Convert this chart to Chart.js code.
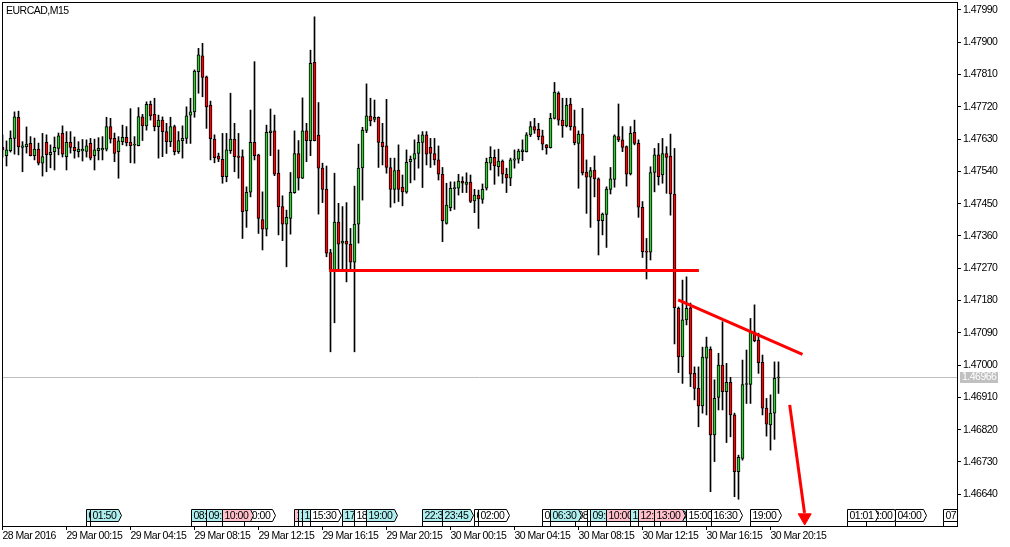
<!DOCTYPE html>
<html>
<head>
<meta charset="utf-8">
<script src="https://cdn.jsdelivr.net/npm/chart.js"></script>
<style>
html,body{margin:0;padding:0;background:#fff;overflow:hidden}
canvas{display:block}
</style>
</head>
<body>
<canvas id="c" width="1010" height="547"></canvas>
<script>
// ---------- DATA ----------
const symbolTitle = 'EURCAD,M15';

const opens = [
1.47608,1.47584,1.47598,1.47632,1.47691,1.47607,1.47609,1.47618,1.47584,1.47602,
1.47563,1.47621,1.47587,1.47595,1.47604,1.47646,1.47581,1.47621,1.47607,1.47595,
1.47597,1.47596,1.47618,1.47584,1.47598,1.47600,1.47602,1.47665,1.47632,1.47595,
1.47623,1.47635,1.47621,1.47613,1.47612,1.47692,1.47667,1.47727,1.47699,1.47665,
1.47683,1.47651,1.47623,1.47665,1.47595,1.47626,1.47632,1.47697,1.47706,1.47818,
1.47862,1.47804,1.47725,1.47630,1.47583,1.47574,1.47525,1.47598,1.47630,1.47583,
1.47581,1.47430,1.47482,1.47621,1.47586,1.47406,1.47379,1.47648,1.47653,1.47535,
1.47442,1.47393,1.47409,1.47481,1.47590,1.47521,1.47653,1.47626,1.47844,1.47641,
1.47549,1.47491,1.47314,1.47265,1.47399,1.47340,1.47346,1.47337,1.47287,1.47393,
1.47550,1.47654,1.47694,1.47685,1.47691,1.47621,1.47611,1.47551,1.47490,1.47544,
1.47496,1.47482,1.47567,1.47574,1.47590,1.47621,1.47642,1.47607,1.47590,1.47572,
1.47532,1.47395,1.47439,1.47492,1.47493,1.47513,1.47504,1.47510,1.47458,1.47474,
1.47462,1.47493,1.47563,1.47579,1.47553,1.47569,1.47532,1.47521,1.47571,1.47574,
1.47595,1.47595,1.47642,1.47665,1.47657,1.47639,1.47614,1.47606,1.47688,1.47758,
1.47683,1.47667,1.47728,1.47665,1.47618,1.47644,1.47538,1.47524,1.47544,1.47519,
1.47403,1.47420,1.47490,1.47518,1.47637,1.47628,1.47609,1.47533,1.47649,1.47618,
1.47440,1.47316,1.47315,1.47537,1.47586,1.47530,1.47590,1.47583,1.47477,1.47158,
1.47023,1.47126,1.47160,1.46977,1.46935,1.46886,1.47019,1.47044,1.46805,1.46910,
1.47000,1.46926,1.46952,1.46861,1.46703,1.46740,1.46946,1.46946,1.47093,1.47070,
1.47008,1.46880,1.46833,1.46866,1.46964
];
const highs = [
1.47642,1.47625,1.47653,1.47706,1.47708,1.47623,1.47664,1.47637,1.47633,1.47619,
1.47646,1.47642,1.47614,1.47636,1.47647,1.47667,1.47651,1.47651,1.47636,1.47623,
1.47629,1.47628,1.47632,1.47630,1.47634,1.47637,1.47691,1.47688,1.47647,1.47637,
1.47669,1.47665,1.47715,1.47637,1.47718,1.47699,1.47734,1.47736,1.47744,1.47697,
1.47692,1.47674,1.47691,1.47669,1.47651,1.47667,1.47720,1.47744,1.47823,1.47883,
1.47897,1.47806,1.47736,1.47642,1.47591,1.47646,1.47646,1.47758,1.47674,1.47646,
1.47600,1.47497,1.47711,1.47846,1.47588,1.47483,1.47669,1.47714,1.47697,1.47600,
1.47472,1.47432,1.47537,1.47653,1.47626,1.47745,1.47674,1.47878,1.47971,1.47732,
1.47563,1.47555,1.47323,1.47535,1.47451,1.47442,1.47453,1.47381,1.47499,1.47616,
1.47663,1.47784,1.47744,1.47739,1.47692,1.47674,1.47741,1.47577,1.47577,1.47614,
1.47530,1.47600,1.47583,1.47628,1.47642,1.47651,1.47651,1.47632,1.47632,1.47611,
1.47551,1.47507,1.47511,1.47511,1.47532,1.47525,1.47536,1.47530,1.47490,1.47488,
1.47505,1.47577,1.47609,1.47600,1.47602,1.47572,1.47549,1.47577,1.47600,1.47602,
1.47628,1.47648,1.47679,1.47688,1.47674,1.47655,1.47615,1.47702,1.47788,1.47762,
1.47744,1.47744,1.47744,1.47711,1.47653,1.47716,1.47572,1.47551,1.47583,1.47522,
1.47424,1.47497,1.47551,1.47642,1.47728,1.47665,1.47611,1.47665,1.47683,1.47628,
1.47456,1.47353,1.47553,1.47604,1.47618,1.47632,1.47609,1.47644,1.47604,1.47162,
1.47237,1.47246,1.47173,1.46995,1.46995,1.47050,1.47078,1.47051,1.46959,1.47033,
1.47121,1.47005,1.46966,1.46866,1.46749,1.47014,1.47042,1.47130,1.47168,1.47089,
1.47028,1.46907,1.46917,1.47009,1.47009
];
const lows = [
1.47580,1.47555,1.47594,1.47588,1.47586,1.47539,1.47591,1.47583,1.47572,1.47558,
1.47527,1.47539,1.47550,1.47544,1.47586,1.47580,1.47544,1.47591,1.47577,1.47580,
1.47569,1.47580,1.47572,1.47544,1.47572,1.47572,1.47597,1.47619,1.47567,1.47521,
1.47614,1.47611,1.47564,1.47563,1.47611,1.47626,1.47655,1.47683,1.47653,1.47577,
1.47581,1.47590,1.47609,1.47586,1.47590,1.47577,1.47618,1.47618,1.47691,1.47758,
1.47748,1.47660,1.47572,1.47564,1.47567,1.47507,1.47511,1.47590,1.47539,1.47521,
1.47353,1.47384,1.47469,1.47572,1.47367,1.47321,1.47360,1.47584,1.47528,1.47363,
1.47347,1.47274,1.47365,1.47479,1.47488,1.47520,1.47567,1.47584,1.47625,1.47421,
1.47453,1.47302,1.47037,1.47118,1.47265,1.47265,1.47232,1.47265,1.47037,1.47340,
1.47460,1.47648,1.47667,1.47678,1.47551,1.47558,1.47535,1.47440,1.47452,1.47456,
1.47444,1.47479,1.47508,1.47516,1.47549,1.47495,1.47558,1.47551,1.47558,1.47516,
1.47344,1.47393,1.47430,1.47434,1.47474,1.47481,1.47481,1.47453,1.47425,1.47381,
1.47451,1.47488,1.47544,1.47504,1.47527,1.47507,1.47481,1.47500,1.47549,1.47563,
1.47570,1.47594,1.47637,1.47646,1.47628,1.47600,1.47588,1.47605,1.47686,1.47669,
1.47635,1.47664,1.47655,1.47614,1.47493,1.47530,1.47423,1.47384,1.47469,1.47307,
1.47363,1.47328,1.47477,1.47496,1.47623,1.47595,1.47499,1.47530,1.47614,1.47412,
1.47300,1.47240,1.47293,1.47483,1.47502,1.47507,1.47479,1.47418,1.47059,1.46979,
1.46949,1.47112,1.46940,1.46903,1.46828,1.46866,1.46861,1.46647,1.46731,1.46875,
1.46875,1.46784,1.46800,1.46633,1.46626,1.46735,1.46893,1.46893,1.47065,1.46977,
1.46861,1.46802,1.46763,1.46793,1.46921
];
const closes = [
1.47600,1.47600,1.47632,1.47692,1.47608,1.47611,1.47616,1.47584,1.47602,1.47563,
1.47581,1.47587,1.47593,1.47607,1.47639,1.47588,1.47621,1.47607,1.47598,1.47602,
1.47602,1.47611,1.47577,1.47600,1.47604,1.47604,1.47665,1.47630,1.47590,1.47625,
1.47635,1.47620,1.47612,1.47614,1.47693,1.47667,1.47727,1.47695,1.47665,1.47683,
1.47651,1.47623,1.47665,1.47595,1.47626,1.47632,1.47695,1.47706,1.47820,1.47865,
1.47802,1.47720,1.47631,1.47578,1.47574,1.47525,1.47600,1.47630,1.47581,1.47579,
1.47428,1.47482,1.47621,1.47584,1.47409,1.47379,1.47649,1.47653,1.47532,1.47442,
1.47393,1.47412,1.47482,1.47590,1.47521,1.47653,1.47626,1.47841,1.47626,1.47549,
1.47490,1.47312,1.47265,1.47399,1.47337,1.47346,1.47337,1.47287,1.47393,1.47549,
1.47655,1.47695,1.47681,1.47691,1.47621,1.47609,1.47551,1.47490,1.47542,1.47490,
1.47483,1.47565,1.47574,1.47590,1.47621,1.47642,1.47588,1.47590,1.47572,1.47532,
1.47403,1.47446,1.47493,1.47493,1.47513,1.47507,1.47510,1.47456,1.47474,1.47463,
1.47490,1.47565,1.47579,1.47555,1.47569,1.47532,1.47522,1.47572,1.47575,1.47597,
1.47600,1.47642,1.47665,1.47655,1.47637,1.47616,1.47606,1.47688,1.47761,1.47683,
1.47667,1.47725,1.47665,1.47620,1.47644,1.47536,1.47524,1.47542,1.47519,1.47403,
1.47421,1.47491,1.47519,1.47639,1.47628,1.47607,1.47532,1.47646,1.47618,1.47440,
1.47316,1.47315,1.47537,1.47586,1.47525,1.47590,1.47579,1.47477,1.47160,1.47023,
1.47126,1.47158,1.46975,1.46935,1.46886,1.47022,1.47051,1.46805,1.46907,1.47000,
1.46926,1.46952,1.46861,1.46703,1.46743,1.46946,1.46947,1.47093,1.47068,1.47007,
1.46880,1.46835,1.46866,1.46963,1.46966
];

const xTickBars = [0,16,32,48,64,80,96,112,128,144,160,176,192];
const xTickLabels = ['28 Mar 2016','29 Mar 00:15','29 Mar 04:15','29 Mar 08:15','29 Mar 12:15',
  '29 Mar 16:15','29 Mar 20:15','30 Mar 00:15','30 Mar 04:15','30 Mar 08:15',
  '30 Mar 12:15','30 Mar 16:15','30 Mar 20:15'];
const yTicks = [1.47990,1.47900,1.47810,1.47720,1.47630,1.47540,1.47450,1.47360,
  1.47270,1.47180,1.47090,1.47000,1.46910,1.46820,1.46730,1.46640];
const lastPrice = 1.46966;

// drawn objects (bar index, price)
const supportLine = [{x:81.65, y:1.47264},{x:174.1, y:1.47264}];
const trendLine   = [{x:168.9, y:1.47182},{x:200.0, y:1.47030}];
const arrowShaft  = [{x:196.8, y:1.46889},{x:200.5, y:1.46588}];
const arrowHead   = [{x:200.55, y:1.46575}];

// calendar event labels (bar index, text, kind)
const eventBars  = [20.9,21.9,47.0,50.9,60.4,54.9,72.9,73.9,74.9,76.9,84.9,87.9,90.8,104.9,109.9,
  117.9,118.9,134.9,143.1,136.9,146.1,146.9,150.9,156.9,158.9,164.4,162.9,170.8,177.1,186.9,
  215.9,211.0,223.1,235.1];
const eventTexts = ['01:30','01:50','08:15','09:00','10:00','10:00','14:30','14:45','15:00','15:30',
  '17:30','18:30','19:00','22:30','23:45','01:45','02:00','06:00','08:00','06:30','09:00','09:00',
  '10:00','12:00','12:30','13:30','13:00','15:00','16:30','19:00','02:00','01:01','04:00','07:00'];
const eventKinds = ['c','c','c','c','w','p','p','c','c','w','c','w','c','c','c','w','w','w','w',
  'c','w','c','p','c','p','c','p','w','w','w','w','w','w','w'];

// ---------- STYLE ----------
const FONT = '"Liberation Sans", Arial, sans-serif';
const FSIZE = 10.5;
const SPACING = '-0.5px';
const GREEN = '#32cd32';
const RED = '#ff0000';
const KIND_COLORS = { c: '#afeeee', p: '#ffc0cb', w: '#ffffff' };

const bodyData = opens.map((o, i) => ({ x: i, y: [o, closes[i]] }));
const wickData = highs.map((h, i) => ({ x: i, y: [lows[i], h] }));
const isUp = i => closes[i] >= opens[i];

const mtPlugin = {
  id: 'mtDecor',
  beforeLayout(chart) { try { chart.ctx.letterSpacing = SPACING; } catch (e) {} },
  beforeDraw(chart) { try { chart.ctx.letterSpacing = SPACING; } catch (e) {} },
  beforeDatasetsDraw(chart) {
    const { ctx, chartArea: a, scales: { y } } = chart;
    const py = Math.round(y.getPixelForValue(lastPrice)) + 0.5;
    ctx.save();
    ctx.strokeStyle = '#c0c0c0';
    ctx.lineWidth = 1;
    ctx.beginPath();
    ctx.moveTo(a.left, py);
    ctx.lineTo(a.right, py);
    ctx.stroke();
    ctx.restore();
  },
  afterDraw(chart) {
    const { ctx, chartArea: a, scales: { x, y } } = chart;
    ctx.save();
    try { ctx.letterSpacing = SPACING; } catch (e) {}
    ctx.beginPath();
    ctx.rect(a.left, a.top, a.right - a.left, a.bottom - a.top);
    ctx.clip();
    ctx.font = FSIZE + 'px ' + FONT;
    ctx.textBaseline = 'middle';
    ctx.textAlign = 'left';
    ctx.lineWidth = 1;
    const top = a.bottom - 16.5, bot = a.bottom - 4.5;
    eventBars.forEach((b, k) => {
      const x0 = Math.round(x.getPixelForValue(b)) + 0.5;
      const tw = ctx.measureText(eventTexts[k]).width;
      const w = Math.round(tw + 4);
      ctx.beginPath();
      ctx.moveTo(x0, top);
      ctx.lineTo(x0 + w, top);
      ctx.lineTo(x0 + w + 3, (top + bot) / 2);
      ctx.lineTo(x0 + w, bot);
      ctx.lineTo(x0, bot);
      ctx.closePath();
      ctx.fillStyle = KIND_COLORS[eventKinds[k]];
      ctx.fill();
      ctx.strokeStyle = '#000';
      ctx.stroke();
      ctx.beginPath();
      ctx.moveTo(x0, bot);
      ctx.lineTo(x0, a.bottom);
      ctx.stroke();
      ctx.fillStyle = '#000';
      ctx.fillText(eventTexts[k], x0 + 2, (top + bot) / 2 + 0.5);
    });
    ctx.restore();

    ctx.save();
    try { ctx.letterSpacing = SPACING; } catch (e) {}
    ctx.strokeStyle = '#000';
    ctx.lineWidth = 1;
    ctx.strokeRect(a.left + 0.5, a.top + 0.5, a.right - a.left, a.bottom - a.top);
    ctx.font = FSIZE + 'px ' + FONT;
    ctx.fillStyle = '#000';
    ctx.textBaseline = 'alphabetic';
    ctx.textAlign = 'left';
    ctx.fillText(symbolTitle, a.left + 4, a.top + 12);
    const py = Math.round(y.getPixelForValue(lastPrice));
    const txt = lastPrice.toFixed(5);
    const tw = ctx.measureText(txt).width;
    ctx.fillStyle = '#c0c0c0';
    ctx.fillRect(a.right + 3, py - 5, Math.round(tw + 4), 11);
    ctx.fillStyle = '#fff';
    ctx.textBaseline = 'middle';
    ctx.fillText(txt, a.right + 5, py + 0.5);
    ctx.restore();
  }
};

new Chart(document.getElementById('c'), {
  type: 'bar',
  data: {
    datasets: [
      { type: 'bar', label: 'wick', data: wickData, backgroundColor: '#000', borderWidth: 0,
        barThickness: 1, grouped: false, order: 3 },
      { type: 'bar', label: 'body', data: bodyData,
        backgroundColor: c => isUp(c.dataIndex) ? GREEN : RED,
        borderColor: '#000', borderWidth: 1, borderSkipped: false, minBarLength: 1,
        barThickness: 3, grouped: false, order: 2 },
      { type: 'line', label: 'support', data: supportLine, borderColor: RED, borderWidth: 3,
        pointRadius: 0, order: 1 },
      { type: 'line', label: 'trend', data: trendLine, borderColor: RED, borderWidth: 3,
        pointRadius: 0, order: 1 },
      { type: 'line', label: 'arrow', data: arrowShaft, borderColor: RED, borderWidth: 3,
        pointRadius: 0, order: 1 },
      { type: 'line', label: 'arrowHead', data: arrowHead, showLine: false, pointStyle: 'triangle',
        pointRadius: 7.5, rotation: 180, backgroundColor: RED, borderColor: RED, borderWidth: 1, order: 0 }
    ]
  },
  options: {
    responsive: false,
    animation: false,
    devicePixelRatio: 1,
    events: [],
    layout: { padding: { left: 2, top: 2, right: 0, bottom: 0 }, autoPadding: false },
    plugins: { legend: { display: false }, tooltip: { enabled: false } },
    scales: {
      x: {
        type: 'linear', position: 'bottom', min: -0.125, max: 238.625, offset: false,
        afterBuildTicks: s => { s.ticks = xTickBars.map(v => ({ value: v })); },
        afterFit: s => { s.height = 21; s.paddingLeft = 0; s.paddingRight = 0; },
        grid: { display: true, drawOnChartArea: false, drawTicks: true, tickLength: 4, color: '#000', offset: false },
        border: { display: false },
        ticks: {
          autoSkip: false, maxRotation: 0, minRotation: 0, align: 'start', padding: 0,
          color: '#000', font: { family: FONT, size: FSIZE },
          callback: v => { const k = xTickBars.indexOf(v); return k >= 0 ? xTickLabels[k] : ''; }
        }
      },
      y: {
        type: 'linear', position: 'right', min: 1.465514, max: 1.480123,
        afterBuildTicks: s => { s.ticks = yTicks.map(v => ({ value: v })); },
        afterFit: s => { s.width = 53; s.paddingTop = 0; s.paddingBottom = 0; },
        grid: { display: true, drawOnChartArea: false, drawTicks: true, tickLength: 4, color: '#000' },
        border: { display: false },
        ticks: { padding: 2, color: '#000', font: { family: FONT, size: FSIZE },
          callback: v => Number(v).toFixed(5) }
      }
    }
  },
  plugins: [mtPlugin]
});
</script>
</body>
</html>
